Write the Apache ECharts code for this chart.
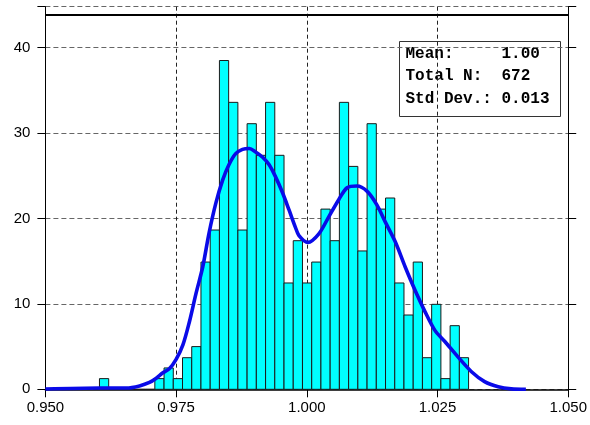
<!DOCTYPE html>
<html>
<head>
<meta charset="utf-8">
<script src="https://cdn.jsdelivr.net/npm/echarts@6/dist/echarts.min.js"></script>
<style>
html,body{margin:0;padding:0;background:#fff;}
#chart{width:590px;height:425px;}
</style>
</head>
<body>
<div id="chart"></div>
<script>
// ---- data ----
const binStart = 0.96034;
const binWidth = 0.001765;
const binCounts = [1.25, 0, 0, 0, 0, 0, 1.25, 2.5, 1.25, 3.7, 5.0, 14.9, 18.65, 38.5, 33.6, 18.65, 31.1, 27.4, 33.6, 27.4,
  12.45, 17.4, 12.45, 14.9, 21.1, 17.4, 33.6, 26.1, 16.2, 31.1, 21.1, 22.4, 12.45, 8.7, 14.9, 3.7, 9.95, 1.25, 7.45, 3.7];
const curveX = [0.9500, 0.9604, 0.9655, 0.9680, 0.9699, 0.9712, 0.9724, 0.9737, 0.9750, 0.9763, 0.9775, 0.9788, 0.9801,
  0.9813, 0.9826, 0.9839, 0.9851, 0.9864, 0.9877, 0.9890, 0.9902, 0.9915, 0.9928, 0.9940, 0.9953, 0.9966, 0.9978, 0.9985,
  1.0002, 1.0023, 1.0042, 1.0061, 1.0077, 1.0096, 1.0115, 1.0134, 1.0150, 1.0169, 1.0188, 1.0207, 1.0226, 1.0245, 1.0264,
  1.0289, 1.0315, 1.0340, 1.0366, 1.0391, 1.0419];
const curveY = [0.03, 0.15, 0.15, 0.4, 0.8, 1.3, 1.9, 2.4, 3.5, 5.2, 7.8, 11.2, 14.35,
  18.3, 21.8, 24.5, 26.3, 27.6, 28.1, 28.2, 27.8, 27.2, 26.3, 24.9, 23.1, 21.0, 19.0, 18.0,
  17.2, 18.2, 20.2, 22.2, 23.6, 23.8, 23.2, 21.6, 19.6, 17.3, 14.35, 11.6, 9.1, 6.9, 5.6,
  3.8, 2.06, 0.9, 0.3, 0.05, 0.0];
const xTickLabels = ['0.950', '0.975', '1.000', '1.025', '1.050'];
const yTicks = [0, 10, 20, 30, 40];
const frameTop = 43.86;
const statsLines = ['Mean:     1.00', 'Total N:  672', 'Std Dev.: 0.013'];

// ---- build ----
const histData = binCounts.map((c, i) => [binStart + i * binWidth, binStart + (i + 1) * binWidth, c]);
const curveData = curveX.map((x, i) => [x, curveY[i]]);

const chart = echarts.init(document.getElementById('chart'), null, {renderer: 'canvas'});
const labelFont = {fontFamily: '"Liberation Sans", Arial, sans-serif', fontSize: 15, color: '#000'};

const option = {
  animation: false,
  backgroundColor: '#fff',
  grid: {left: 45.4, right: 19.4, top: 6.7, bottom: 35.7},
  xAxis: {
    type: 'value', min: 0.95, max: 1.05, interval: 0.025,
    axisLine: {show: true, lineStyle: {color: '#000', width: 1.5}},
    axisTick: {show: true, inside: false, length: 8, lineStyle: {color: '#000', width: 1}},
    axisLabel: Object.assign({margin: 11, formatter: (v) => {
      const idx = Math.round((v - 0.95) / 0.025);
      return xTickLabels[idx] !== undefined ? xTickLabels[idx] : '';
    }}, labelFont),
    splitLine: {show: true, lineStyle: {color: '#222', type: [4, 3], width: 1}}
  },
  yAxis: [{
    type: 'value', min: 0, max: 44.8, interval: 10, position: 'left',
    axisLine: {show: true, lineStyle: {color: '#000', width: 1}},
    axisTick: {show: true, inside: false, length: 8, lineStyle: {color: '#000'}},
    axisLabel: Object.assign({margin: 15, formatter: (v) => yTicks.indexOf(v) >= 0 ? String(v) : ''}, labelFont),
    splitLine: {show: true, lineStyle: {color: '#666', type: [5, 3], width: 1}}
  }, {
    type: 'value', min: 0, max: 44.8, interval: 10, position: 'right',
    axisLine: {show: true, onZero: false, lineStyle: {color: '#000', width: 1}},
    axisTick: {show: true, inside: false, length: 8, lineStyle: {color: '#000'}},
    axisLabel: {show: false},
    splitLine: {show: false}
  }],
  series: [{
    type: 'custom',
    xAxisIndex: 0, yAxisIndex: 0,
    encode: {x: [0, 1], y: 2},
    data: histData,
    z: 2,
    renderItem: function (params, api) {
      const x0 = api.value(0), x1 = api.value(1), h = api.value(2);
      const p0 = api.coord([x0, h]);
      const p1 = api.coord([x1, 0]);
      return {
        type: 'rect',
        shape: {x: p0[0], y: p0[1], width: p1[0] - p0[0], height: p1[1] - p0[1]},
        style: {fill: '#00ffff', stroke: '#1a1a1a', lineWidth: 1}
      };
    },
    markLine: {
      silent: true, symbol: 'none', label: {show: false},
      lineStyle: {color: '#000', type: 'solid', width: 2},
      data: [{yAxis: frameTop}]
    }
  }, {
    type: 'line',
    xAxisIndex: 0, yAxisIndex: 0,
    data: curveData,
    showSymbol: false,
    smooth: 0.3,
    z: 3,
    lineStyle: {color: '#0a0ae8', width: 3.6}
  }],
  graphic: [{
    type: 'group', left: 399, top: 41,
    children: [{
      type: 'rect', shape: {x: 0, y: 0, width: 161, height: 75},
      style: {fill: '#fff', stroke: '#333', lineWidth: 1}
    }].concat(statsLines.map((t, i) => ({
      type: 'text', x: 6, y: 12.5 + i * 22.4,
      style: {text: t, font: 'bold 16px "Liberation Mono", "Courier New", monospace', fill: '#000', verticalAlign: 'middle', textVerticalAlign: 'middle'}
    })))
  }]
};
chart.setOption(option);
</script>
</body>
</html>
